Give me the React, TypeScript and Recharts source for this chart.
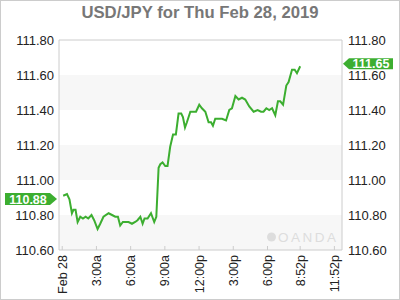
import { CartesianGrid, LineChart, Line, ReferenceLine, XAxis, YAxis } from "recharts";

// minutes after midnight, Feb 28
const minutes = [
  5, 25, 38, 51, 59, 70, 81, 95, 109, 123, 137, 154, 168, 186, 200, 217, 244, 262, 279, 293,
  305, 319, 332, 349, 367, 384, 396, 411, 423, 433, 449, 467, 484, 495, 507, 516, 528, 542, 554, 568,
  583, 598, 612, 626, 635, 646, 656, 674, 691, 704, 721, 735, 753, 770, 783, 793, 805, 823, 841, 862,
  879, 893, 911, 928, 946, 963, 984, 1007, 1028, 1046, 1059, 1074, 1089, 1104, 1121, 1135, 1147, 1162, 1179, 1191,
  1209, 1223, 1235, 1252,
];
const prices = [
  110.91, 110.92, 110.89, 110.81, 110.83, 110.83, 110.76, 110.79, 110.78, 110.79,
  110.78, 110.8, 110.77, 110.72, 110.75, 110.79, 110.81, 110.8, 110.79, 110.79,
  110.74, 110.76, 110.76, 110.76, 110.75, 110.76, 110.77, 110.79, 110.75, 110.78,
  110.78, 110.81, 110.76, 110.79, 111.07, 111.09, 111.1, 111.08, 111.08, 111.19,
  111.26, 111.26, 111.38, 111.38, 111.36, 111.3, 111.33, 111.39, 111.39, 111.39,
  111.43, 111.41, 111.39, 111.33, 111.33, 111.31, 111.35, 111.35, 111.35, 111.34,
  111.4, 111.41, 111.48, 111.46, 111.47, 111.46, 111.42, 111.39, 111.4, 111.39,
  111.39, 111.41, 111.4, 111.41, 111.37, 111.45, 111.45, 111.43, 111.54, 111.56,
  111.63, 111.63, 111.61, 111.65,
];
const xTicks = [0, 180, 360, 540, 720, 900, 1080, 1252, 1432];
const xTickLabels = ["Feb 28", "3:00a", "6:00a", "9:00a", "12:00p", "3:00p", "6:00p", "8:52p", "11:52p"];
const yTicks = [110.6, 110.8, 111.0, 111.2, 111.4, 111.6, 111.8];
const openPrice = 110.88;
const lastPrice = 111.65;

const data = minutes.map((t, i) => ({ t, price: prices[i] }));

const GREEN = "#3cae30";
const FONT = "'Liberation Sans', Arial, sans-serif";

function TimeTick({ x, y, payload }: any) {
  const label = xTickLabels[xTicks.indexOf(payload.value)];
  return (
    <g>
      <line x1={x} x2={x} y1={y - 4} y2={y} stroke="#ccc" />
      <text
        transform={`translate(${x + 4.5},${y + 5}) rotate(-90)`}
        textAnchor="end"
        fontSize={12.5}
        fontFamily={FONT}
        fill="#222"
      >
        {label}
      </text>
    </g>
  );
}

function LeftTag({ viewBox, value }: any) {
  const x = viewBox.x;
  const cy = viewBox.y - 2;
  const pts = `${x - 54},${cy - 6} ${x - 9},${cy - 6} ${x - 2},${cy} ${x - 9},${cy + 6} ${x - 54},${cy + 6}`;
  return (
    <g>
      <polygon points={pts} fill={GREEN} />
      <text x={x - 31} y={cy} dy="0.36em" textAnchor="middle" fontSize={12.5} fontWeight="bold" fontFamily={FONT} fill="#fff">
        {value.toFixed(2)}
      </text>
    </g>
  );
}

function RightTag({ viewBox, value }: any) {
  const r = viewBox.x + viewBox.width;
  const cy = viewBox.y - 2.5;
  const pts = `${r + 1},${cy} ${r + 7},${cy - 5.5} ${r + 51},${cy - 5.5} ${r + 51},${cy + 5.5} ${r + 7},${cy + 5.5}`;
  return (
    <g>
      <polygon points={pts} fill={GREEN} />
      <text x={r + 29} y={cy} dy="0.36em" textAnchor="middle" fontSize={12.5} fontWeight="bold" fontFamily={FONT} fill="#fff">
        {value.toFixed(2)}
      </text>
    </g>
  );
}

export default function App() {
  const tickStyle = { fontSize: 13, fontFamily: FONT, fill: "#222" };
  return (
    <div style={{ position: "fixed", left: 0, top: 0, width: 400, height: 300, background: "#fff" }}>
      <LineChart width={400} height={300} data={data} margin={{ top: 40, right: 0, bottom: 0, left: 0 }}>
        <CartesianGrid
          yAxisId="left"
          vertical={false}
          stroke="none"
          horizontalFill={["#ffffff", "#f7f7f7"]}
        />
        <XAxis
          dataKey="t"
          type="number"
          domain={[-17, 1472]}
          ticks={xTicks}
          interval={0}
          height={50}
          tickSize={0}
          tickMargin={0}
          tickLine={false}
          axisLine={{ stroke: "#ccc" }}
          tick={<TimeTick />}
        />
        <YAxis
          yAxisId="left"
          type="number"
          domain={[110.6, 111.8]}
          ticks={yTicks}
          interval={0}
          width={59}
          tickSize={0}
          tickMargin={5}
          tickLine={false}
          axisLine={{ stroke: "#ccc" }}
          tick={tickStyle}
          tickFormatter={(v: number) => v.toFixed(2)}
        />
        <YAxis
          yAxisId="right"
          orientation="right"
          type="number"
          domain={[110.6, 111.8]}
          ticks={yTicks}
          interval={0}
          width={58}
          tickSize={0}
          tickMargin={6}
          tickLine={false}
          axisLine={{ stroke: "#ccc" }}
          tick={tickStyle}
          tickFormatter={(v: number) => v.toFixed(2)}
        />
        <ReferenceLine yAxisId="left" y={111.8} stroke="#ccc" />
        <Line
          yAxisId="right"
          dataKey="price"
          stroke="none"
          dot={false}
          activeDot={false}
          isAnimationActive={false}
        />
        <Line
          yAxisId="left"
          dataKey="price"
          type="linear"
          stroke={GREEN}
          strokeWidth={2}
          dot={false}
          isAnimationActive={false}
        />
        <ReferenceLine yAxisId="left" y={openPrice} stroke="none" label={<LeftTag value={openPrice} />} />
        <ReferenceLine yAxisId="right" y={lastPrice} stroke="none" label={<RightTag value={lastPrice} />} />
      </LineChart>
      <svg width={400} height={300} style={{ position: "absolute", left: 0, top: 0, pointerEvents: "none" }}>
        <rect x={0.5} y={0.5} width={399} height={299} fill="none" stroke="#ccc" />
        <text x={200} y={18} textAnchor="middle" fontSize={16.7} fontWeight="bold" fontFamily={FONT} fill="#777">
          USD/JPY for Thu Feb 28, 2019
        </text>
        <circle cx={271.5} cy={237} r={4.5} fill="#ddd" />
        <text x={278} y={241.5} fontSize={13.5} letterSpacing={2.5} fontFamily={FONT} fill="#ddd">
          OANDA
        </text>
      </svg>
    </div>
  );
}
